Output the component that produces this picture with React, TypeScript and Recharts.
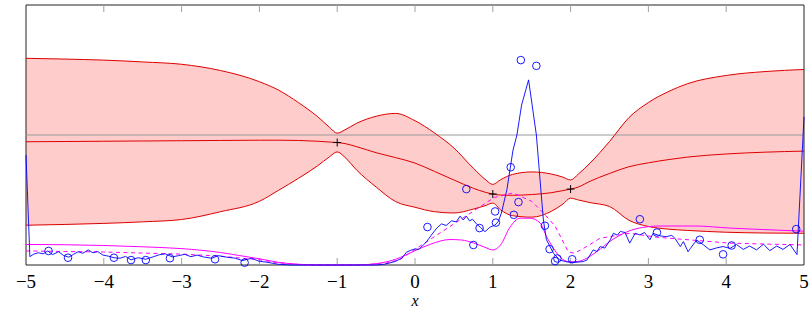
import React from 'react';
import { ComposedChart, XAxis, YAxis, Line, Area, Scatter, ReferenceLine, ReferenceArea, Label } from 'recharts';

// ---- axis ----
const xTicks = [-5, -4, -3, -2, -1, 0, 1, 2, 3, 4, 5];
const xDomain = [-5, 5];
const fDomain = [0, 10];
const priorMean = 5;

// ---- GP posterior (mean and confidence band) ----
const bandX = [-5, -4.5, -4, -3.5, -3, -2.5, -2, -1.75, -1.5, -1.25, -1.1, -1, -0.9, -0.75, -0.5, -0.25, 0, 0.25, 0.5, 0.75, 0.9, 1, 1.1, 1.25, 1.5, 1.75, 1.9, 2, 2.1, 2.25, 2.5, 2.75, 3, 3.25, 3.5, 4, 4.5, 5];
const bandHigh = [7.95, 7.92, 7.88, 7.81, 7.72, 7.48, 7.05, 6.72, 6.25, 5.7, 5.3, 5.07, 5.2, 5.45, 5.72, 5.83, 5.55, 5.08, 4.5, 3.72, 3.3, 3.1, 3.28, 3.48, 3.58, 3.5, 3.38, 3.27, 3.5, 3.92, 4.75, 5.67, 6.25, 6.66, 6.97, 7.29, 7.44, 7.52];
const bandMean = [4.74, 4.75, 4.76, 4.77, 4.78, 4.79, 4.8, 4.8, 4.79, 4.76, 4.73, 4.71, 4.67, 4.55, 4.32, 4.13, 3.92, 3.6, 3.27, 2.95, 2.8, 2.73, 2.69, 2.68, 2.71, 2.78, 2.86, 2.92, 3.0, 3.22, 3.52, 3.78, 3.93, 4.05, 4.15, 4.27, 4.34, 4.38];
const bandLow = [1.53, 1.56, 1.6, 1.66, 1.75, 2.05, 2.45, 2.88, 3.33, 3.82, 4.16, 4.35, 4.14, 3.65, 3.0, 2.44, 2.22, 2.05, 2.0, 2.15, 2.28, 2.38, 2.12, 1.9, 1.84, 2.06, 2.34, 2.57, 2.5, 2.4, 2.25, 1.72, 1.48, 1.38, 1.33, 1.26, 1.23, 1.22];

// ---- evaluated points ----
const evalX = [-1, 1, 2];
const evalF = [4.71, 2.73, 2.92];

// ---- noisy samples (circles) ----
const sampleX = [-4.71, -4.46, -3.87, -3.65, -3.46, -3.15, -2.57, -2.19, 0.16, 0.66, 0.75, 0.83, 1.03, 1.04, 1.23, 1.27, 1.33, 1.36, 1.56, 1.67, 1.73, 1.8, 1.83, 2.02, 2.89, 3.11, 3.66, 3.96, 4.07, 4.9];
const sampleY = [0.54, 0.28, 0.28, 0.19, 0.19, 0.26, 0.22, 0.09, 1.46, 2.92, 0.77, 1.42, 2.06, 1.63, 3.76, 1.93, 2.42, 7.88, 7.66, 1.51, 0.61, 0.15, 0.25, 0.22, 1.76, 1.25, 0.97, 0.41, 0.75, 1.38];

// ---- objective trace (blue line) ----
const traceX = [-5, -4.95, -4.9, -4.84, -4.78, -4.72, -4.66, -4.58, -4.52, -4.45, -4.39, -4.33, -4.27, -4.2, -4.14, -4.08, -4.01, -3.94, -3.87, -3.79, -3.72, -3.65, -3.56, -3.46, -3.36, -3.28, -3.21, -3.12, -3.04, -2.96, -2.88, -2.8, -2.72, -2.61, -2.53, -2.44, -2.31, -2.22, -2.1, -2.01, -1.89, -1.76, -1.6, -0.5, -0.39, -0.26, -0.17, -0.11, -0.06, 0.0, 0.05, 0.11, 0.15, 0.21, 0.28, 0.34, 0.4, 0.47, 0.53, 0.58, 0.62, 0.66, 0.7, 0.74, 0.79, 0.84, 0.9, 0.96, 1.03, 1.07, 1.11, 1.18, 1.26, 1.31, 1.37, 1.46, 1.56, 1.65, 1.69, 1.78, 1.86, 1.95, 2.05, 2.16, 2.21, 2.29, 2.34, 2.38, 2.44, 2.51, 2.55, 2.6, 2.64, 2.7, 2.76, 2.83, 2.89, 2.95, 3.02, 3.06, 3.15, 3.23, 3.3, 3.34, 3.41, 3.45, 3.51, 3.54, 3.62, 3.71, 3.79, 3.88, 3.96, 4.05, 4.13, 4.22, 4.3, 4.39, 4.48, 4.56, 4.65, 4.73, 4.82, 4.91, 5];
const traceY = [4.23, 0.32, 0.42, 0.47, 0.43, 0.54, 0.4, 0.51, 0.37, 0.3, 0.41, 0.51, 0.45, 0.58, 0.47, 0.52, 0.38, 0.34, 0.28, 0.26, 0.33, 0.2, 0.28, 0.22, 0.32, 0.4, 0.43, 0.31, 0.36, 0.41, 0.32, 0.38, 0.31, 0.26, 0.36, 0.31, 0.26, 0.17, 0.26, 0.15, 0.1, 0.03, 0.0, 0.0, 0.03, 0.13, 0.26, 0.49, 0.56, 0.62, 0.6, 0.78, 0.9, 1.15, 1.42, 1.58, 1.52, 1.7, 1.66, 1.88, 1.73, 1.88, 1.7, 1.76, 1.58, 1.45, 1.28, 1.45, 1.54, 1.67, 1.99, 2.88, 4.42, 5.0, 6.15, 7.12, 5.0, 1.73, 0.97, 0.45, 0.19, 0.12, 0.1, 0.13, 0.19, 0.58, 0.52, 0.71, 0.65, 0.97, 1.22, 1.15, 1.29, 1.25, 0.84, 1.22, 1.16, 1.25, 0.97, 1.22, 1.12, 1.09, 1.14, 1.03, 0.71, 0.9, 0.51, 0.64, 0.96, 0.77, 0.58, 0.66, 0.71, 0.64, 0.79, 0.6, 0.73, 0.58, 0.8, 0.55, 0.73, 0.6, 0.79, 0.4, 5.7];

// ---- magenta curves ----
const smoothX = [-5, -4.5, -4, -3.5, -3, -2.5, -2.25, -2, -1.75, -1.5, -1.25, -0.75, -0.5, -0.25, 0, 0.2, 0.45, 0.6, 0.75, 0.9, 1.0, 1.1, 1.22, 1.35, 1.48, 1.61, 1.69, 1.78, 1.86, 1.99, 2.1, 2.2, 2.33, 2.55, 2.85, 3.15, 3.6, 4.05, 4.5, 5];
const smoothY = [0.79, 0.78, 0.75, 0.7, 0.63, 0.48, 0.36, 0.24, 0.1, 0.03, 0.0, 0.0, 0.05, 0.22, 0.55, 0.8, 0.98, 0.96, 0.85, 0.68, 0.58, 0.77, 1.45, 1.8, 1.8, 1.61, 1.1, 0.64, 0.32, 0.12, 0.14, 0.25, 0.5, 1.0, 1.4, 1.5, 1.5, 1.42, 1.36, 1.3];
const dashedX = [-5, -4.5, -4, -3.5, -3, -2.5, -2, -1.75, -1.5, -1.25, -0.75, -0.4, -0.2, 0.0, 1.02, 1.26, 1.5, 1.65, 1.8, 1.97, 2.05, 2.2, 2.38, 2.76, 3.1, 4.05, 5];
const dashedY = [0.54, 0.52, 0.5, 0.46, 0.42, 0.34, 0.2, 0.08, 0.02, 0.0, 0.0, 0.05, 0.2, 0.6, 2.6, 2.77, 2.45, 2.0, 1.5, 0.51, 0.45, 0.7, 1.03, 1.22, 1.07, 0.84, 0.77];

const bandRows = bandX.map((x, i) => ({
  x,
  range: [bandLow[i], bandHigh[i]],
  low: bandLow[i],
  high: bandHigh[i],
  mean: bandMean[i],
}));
const pts = (xs: number[], ys: number[]) => xs.map((x, i) => ({ x, y: ys[i] }));
const evalRows = pts(evalX, evalF);
const sampleRows = pts(sampleX, sampleY);
const traceRows = pts(traceX, traceY);
const smoothRows = pts(smoothX, smoothY);
const dashedRows = pts(dashedX, dashedY);

const SERIF = "'Liberation Serif', 'DejaVu Serif', serif";
const RED = '#dd0000';
const BLUE = '#0000ff';
const MAGENTA = '#ff00ff';
const TICK_GRAY = '#a0a0a0';
const FRAME = '#222';
const TICK_LEN = 7;

const fmt = (v: number) => (v < 0 ? `\u2212${Math.abs(v)}` : `${v}`);

const BottomTick = (props: any) => {
  const { x, y, payload } = props;
  return (
    <text x={x} y={y + 22.5} textAnchor="middle" fontFamily={SERIF} fontSize={19} fill="#000">
      {fmt(payload.value)}
    </text>
  );
};

// short inward tick marks at the top and bottom ends of a vertical reference line
const TickMarks = (props: any) => {
  const { x1, y1, x2, y2 } = props;
  const top = Math.min(y1, y2);
  const bottom = Math.max(y1, y2);
  const x = x1 ?? x2;
  return (
    <g>
      <line x1={x} x2={x} y1={top} y2={top + TICK_LEN} stroke={TICK_GRAY} strokeWidth={1} />
      <line x1={x} x2={x} y1={bottom} y2={bottom - TICK_LEN} stroke={TICK_GRAY} strokeWidth={1} />
    </g>
  );
};

const XLabel = (props: any) => {
  const vb = props.viewBox;
  return (
    <text x={vb.x + vb.width / 2} y={vb.y + 41.3} textAnchor="middle" fontFamily={SERIF} fontStyle="italic" fontSize={16} fill="#000">
      x
    </text>
  );
};

const FLabel = (props: any) => {
  const vb = props.viewBox;
  return (
    <text x={vb.x - 15} y={vb.y + vb.height / 2 + 6} textAnchor="middle" fontFamily={SERIF} fontStyle="italic" fontSize={20} fill="#000">
      f
    </text>
  );
};

const PlusMark = (p: any) => (
  <path d={`M${p.cx - 4},${p.cy}h8M${p.cx},${p.cy - 4}v8`} stroke="#000" strokeWidth={1} fill="none" />
);

const RingMark = (p: any) => (
  <circle cx={p.cx} cy={p.cy} r={3.8} fill="none" stroke={BLUE} strokeWidth={0.9} />
);

export default function App() {
  return (
    <div style={{ position: 'absolute', left: 0, top: 0 }}>
      <ComposedChart width={810} height={310} data={bandRows} margin={{ top: 5, right: 6, bottom: 15, left: 26 }}>
        <XAxis
          dataKey="x"
          type="number"
          domain={xDomain}
          ticks={xTicks}
          interval={0}
          height={30}
          tickSize={0}
          tickMargin={0}
          tickLine={false}
          axisLine={false}
          tick={<BottomTick />}
        >
          <Label content={<XLabel />} />
        </XAxis>
        <YAxis type="number" domain={fDomain} width={0} tick={false} tickLine={false} axisLine={false}>
          <Label content={<FLabel />} />
        </YAxis>

        <Area dataKey="range" type="monotone" fill="#ffcccc" fillOpacity={1} stroke="none" isAnimationActive={false} />
        <ReferenceLine y={priorMean} stroke="#9a9a9a" strokeWidth={1} />
        {xTicks.slice(1, -1).map((t) => (
          <ReferenceLine key={t} x={t} shape={<TickMarks />} />
        ))}
        <Line dataKey="low" type="monotone" stroke={RED} strokeWidth={1} dot={false} isAnimationActive={false} />
        <Line dataKey="high" type="monotone" stroke={RED} strokeWidth={1} dot={false} isAnimationActive={false} />
        <Line dataKey="mean" type="monotone" stroke={RED} strokeWidth={1} dot={false} isAnimationActive={false} />

        <Line data={smoothRows} dataKey="y" type="monotone" stroke={MAGENTA} strokeWidth={1} dot={false} isAnimationActive={false} />
        <Line data={dashedRows} dataKey="y" type="linear" stroke={MAGENTA} strokeWidth={1} strokeDasharray="4 3.5" dot={false} isAnimationActive={false} />
        <Line data={traceRows} dataKey="y" type="linear" stroke={BLUE} strokeWidth={0.9} dot={false} isAnimationActive={false} />

        <Scatter data={sampleRows} dataKey="y" shape={<RingMark />} isAnimationActive={false} />
        <Scatter data={evalRows} dataKey="y" shape={<PlusMark />} isAnimationActive={false} />

        <ReferenceArea x1={xDomain[0]} x2={xDomain[1]} y1={fDomain[0]} y2={fDomain[1]} fill="none" stroke={FRAME} strokeWidth={1} fillOpacity={0} />
      </ComposedChart>
    </div>
  );
}
